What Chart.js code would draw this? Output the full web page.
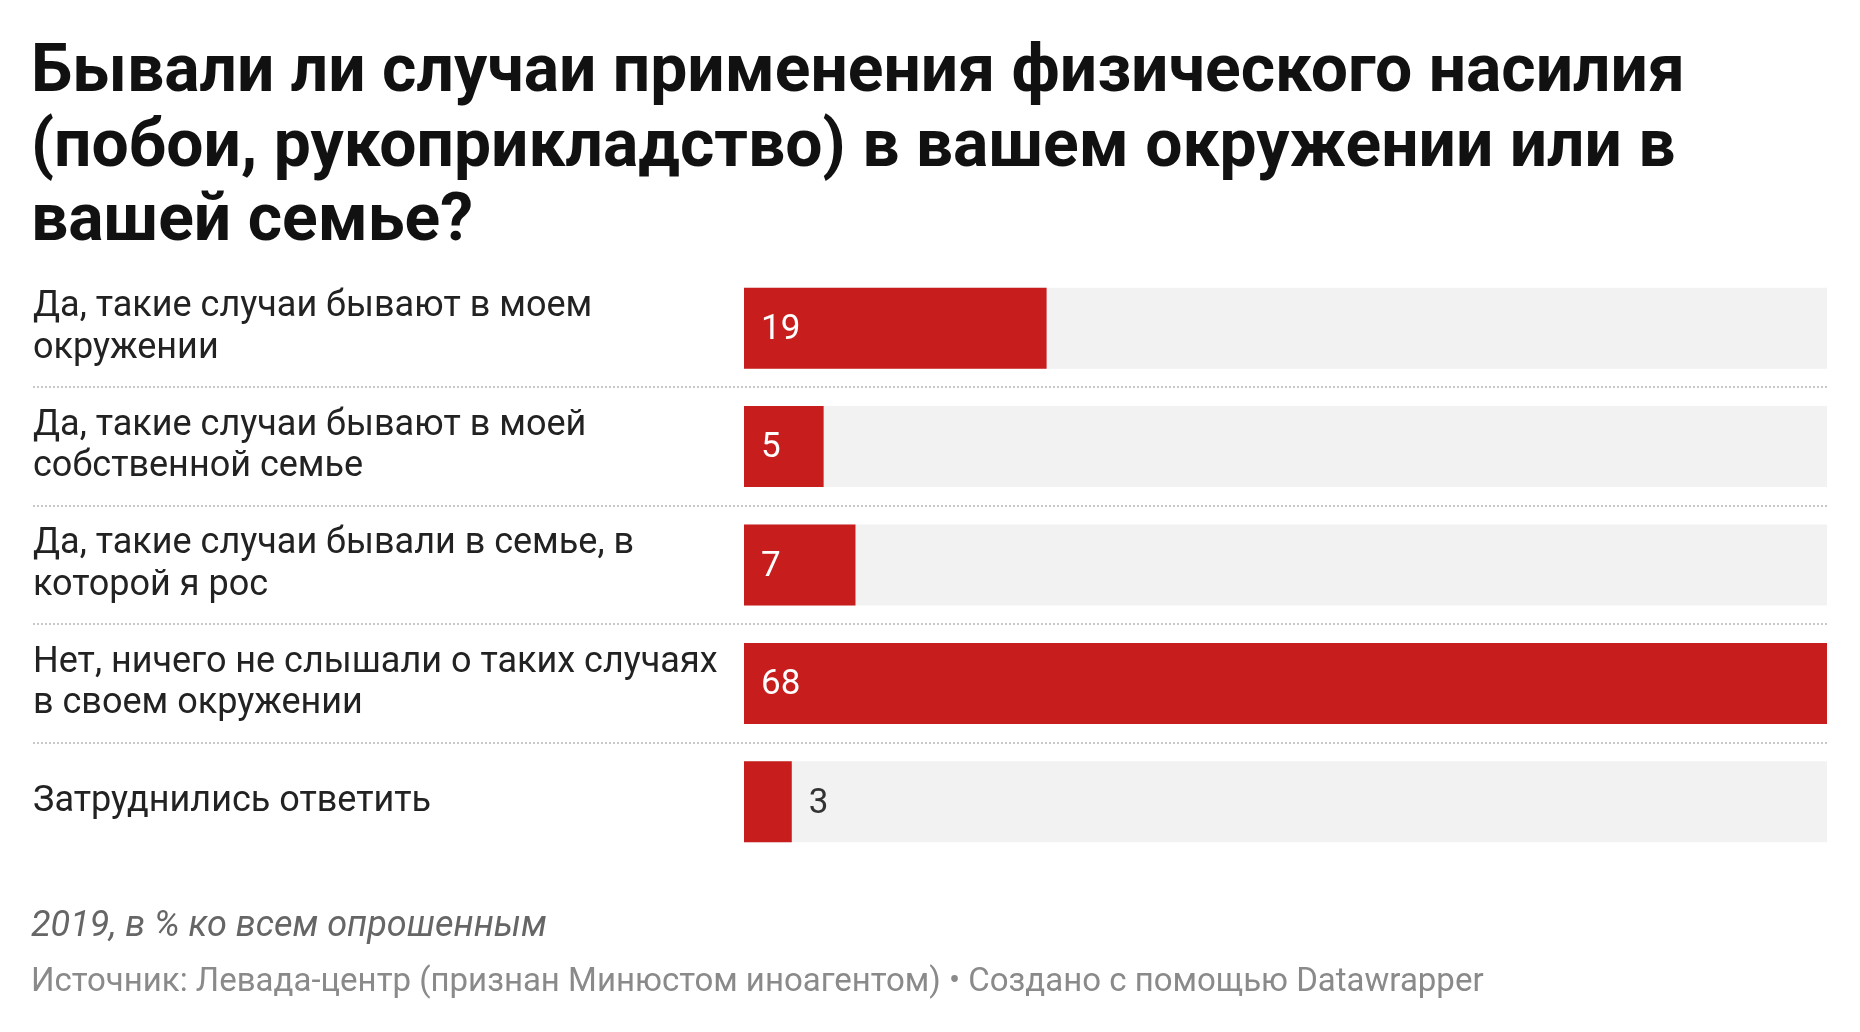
<!DOCTYPE html>
<html>
<head>
<meta charset="utf-8">
<script src="https://cdn.jsdelivr.net/npm/chart.js@4.4.1/dist/chart.umd.min.js"></script>
<style>
  html, body { margin: 0; padding: 0; background: #fff; }
  #wrap { width: 1860px; height: 1032px; position: relative; }
</style>
</head>
<body>
<div id="wrap"><canvas id="chart"></canvas></div>
<script>
// data
const categories = [
  ["Да, такие случаи бывают в моем", "окружении"],
  ["Да, такие случаи бывают в моей", "собственной семье"],
  ["Да, такие случаи бывали в семье, в", "которой я рос"],
  ["Нет, ничего не слышали о таких случаях", "в своем окружении"],
  ["Затруднились ответить"]
];
const values = [19, 5, 7, 68, 3];
const xMax = 68;

const titleLines = [
  "Бывали ли случаи применения физического насилия",
  "(побои, рукоприкладство) в вашем окружении или в",
  "вашей семье?"
];
const noteText = "2019, в % ко всем опрошенным";
const sourceText = "Источник: Левада-центр (признан Минюстом иноагентом) • Создано с помощью Datawrapper";

const RED = "#c71e1d";
const TRACK = "#f2f2f2";
const FONT = "Roboto, 'Liberation Sans', sans-serif";

// gray track behind every bar, full axis length
const trackValues = values.map(() => xMax);

const textPlugin = {
  id: "texts",
  beforeDatasetsDraw(chart) {
    const ctx = chart.ctx, y = chart.scales.y, area = chart.chartArea;
    // dotted separators between rows
    ctx.save();
    ctx.strokeStyle = "#c8c8c8";
    ctx.lineWidth = 2;
    ctx.setLineDash([2, 2]);
    for (let i = 0; i < categories.length - 1; i++) {
      const py = Math.round(y.getPixelForValue(i + 0.5));
      ctx.beginPath();
      ctx.moveTo(33, py);
      ctx.lineTo(area.right, py);
      ctx.stroke();
    }
    ctx.restore();
  },
  afterDatasetsDraw(chart) {
    const ctx = chart.ctx;
    const meta = chart.getDatasetMeta(0);
    ctx.save();
    ctx.font = "35px " + FONT;
    ctx.textBaseline = "middle";
    ctx.textAlign = "left";
    meta.data.forEach((bar, i) => {
      const txt = String(values[i]);
      const w = ctx.measureText(txt).width;
      const len = bar.x - bar.base;
      if (w + 36 < len) {
        ctx.fillStyle = "#fff";
        ctx.fillText(txt, bar.base + 17, bar.y + 2);
      } else {
        ctx.fillStyle = "#333";
        ctx.fillText(txt, bar.x + 17, bar.y + 2);
      }
    });
    ctx.restore();
  },
  afterDraw(chart) {
    const ctx = chart.ctx;
    ctx.save();
    ctx.textAlign = "left";
    ctx.textBaseline = "alphabetic";
    ctx.fillStyle = "#111";
    ctx.font = "bold 66px " + FONT;
    titleLines.forEach((t, i) => ctx.fillText(t, 31, 91 + i * 74.5));
    ctx.fillStyle = "#666";
    ctx.font = "italic 36px " + FONT;
    ctx.fillText(noteText, 31, 936);
    ctx.fillStyle = "#8a8a8a";
    ctx.font = "33px " + FONT;
    ctx.fillText(sourceText, 31, 991);
    ctx.restore();
  }
};

new Chart(document.getElementById("chart"), {
  type: "bar",
  data: {
    labels: categories,
    datasets: [
      {
        data: values,
        backgroundColor: RED,
        order: 0,
        grouped: false,
        barPercentage: 1,
        categoryPercentage: 0.684
      },
      {
        data: trackValues,
        backgroundColor: TRACK,
        order: 1,
        grouped: false,
        barPercentage: 1,
        categoryPercentage: 0.684
      }
    ]
  },
  options: {
    indexAxis: "y",
    responsive: true,
    maintainAspectRatio: false,
    animation: false,
    devicePixelRatio: 1,
    layout: { padding: { left: 33, right: 33, top: 269, bottom: 171 } },
    plugins: {
      legend: { display: false },
      tooltip: { enabled: false },
      title: { display: false }
    },
    scales: {
      x: { display: false, min: 0, max: xMax },
      y: {
        grid: { display: false },
        border: { display: false },
        ticks: {
          crossAlign: "far",
          padding: 0,
          color: "#222",
          font: { family: FONT, size: 36, lineHeight: 1.16 }
        },
        afterFit(scale) { scale.width = 711; }
      }
    }
  },
  plugins: [textPlugin]
});
</script>
</body>
</html>
